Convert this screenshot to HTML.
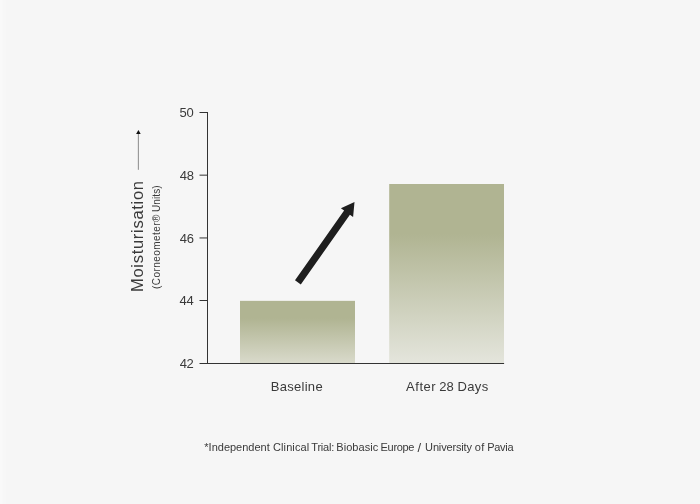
<!DOCTYPE html>
<html lang="en">
<head>
<meta charset="utf-8">
<title>Moisturisation – Independent Clinical Trial</title>
<style>
  html, body { margin: 0; padding: 0; }
  body {
    width: 700px; height: 504px; overflow: hidden;
    background: #f6f6f6;
    font-family: "Liberation Sans", sans-serif;
    color: #3a3a3a;
  }
  .chart { position: relative; width: 700px; height: 504px; overflow: hidden; }
  .chart svg { position: absolute; left: 0; top: 0; }
  .edge { position: absolute; left: 0; top: 0; width: 6px; height: 504px; background: linear-gradient(to right, #f9f9f9 0, #f9f9f9 2px, #f8f8f8 2px, #f8f8f8 3px, #f7f7f7 3px, #f7f7f7 6px); }
  .t { position: absolute; white-space: nowrap; line-height: 1; }
  .v { transform-origin: 0 0; transform: rotate(-90deg); }
</style>
</head>
<body>
<div class="chart">
  <div class="edge"></div>
  <svg width="700" height="504" viewBox="0 0 700 504" aria-hidden="true">
    <defs>
      <linearGradient id="g" x1="0" y1="0" x2="0" y2="1">
        <stop offset="0" stop-color="#b0b492"/>
        <stop offset="0.28" stop-color="#b0b492"/>
        <stop offset="1" stop-color="#e4e5dc"/>
      </linearGradient>
      <linearGradient id="g1" x1="0" y1="0" x2="0" y2="1">
        <stop offset="0" stop-color="#b0b492"/>
        <stop offset="0.28" stop-color="#b0b492"/>
        <stop offset="1" stop-color="#d9dacb"/>
      </linearGradient>
    </defs>
    <!-- bars -->
    <rect x="240" y="300.85" width="115" height="62.15" fill="url(#g1)"/>
    <rect x="389.2" y="184" width="114.8" height="179" fill="url(#g)"/>
    <!-- axes -->
    <rect x="207" y="112" width="1" height="252" fill="#333"/>
    <rect x="199.5" y="363" width="304.6" height="1" fill="#333"/>
    <rect x="199.5" y="112" width="8" height="1" fill="#333"/>
    <rect x="199.5" y="174.65" width="8" height="1" fill="#333"/>
    <rect x="199.5" y="237.45" width="8" height="1" fill="#333"/>
    <rect x="199.5" y="300" width="8" height="1" fill="#333"/>
    <!-- big arrow -->
    <polygon points="295.0,280.3 300.8,284.5 349.9,214.7 353.1,216.9 354.5,202.0 340.9,208.3 344.1,210.6" fill="#1e1e1e"/>
    <!-- small arrow -->
    <rect x="137.85" y="133" width="1" height="36.8" fill="#8a8a8a"/>
    <polygon points="138.4,129.9 140.7,134 136.1,134" fill="#111"/>
  </svg>
  <div class="yticks">
    <span class="t" style="left:179.59px;top:106.00px;font-size:13px;letter-spacing:-0.230px">50</span>
    <span class="t" style="left:179.70px;top:168.60px;font-size:13px;letter-spacing:-0.130px">48</span>
    <span class="t" style="left:179.70px;top:232.20px;font-size:13px;letter-spacing:-0.230px">46</span>
    <span class="t" style="left:179.40px;top:294.20px;font-size:13px;letter-spacing:-0.033px">44</span>
    <span class="t" style="left:179.70px;top:356.90px;font-size:13px;letter-spacing:-0.330px">42</span>
  </div>
  <div class="ylabel">
    <span class="t v" style="left:128.68px;top:292.29px;font-size:16.5px;letter-spacing:0.710px">Moisturisation</span>
    <span class="t v" style="left:151.84px;top:288.87px;font-size:10px;letter-spacing:0.445px">(Corneometer®</span> <span class="t v" style="left:151.84px;top:211.62px;font-size:10px;letter-spacing:0.106px">Units)</span>
  </div>
  <div class="cats">
    <span class="t" style="left:270.78px;top:379.75px;font-size:13px;letter-spacing:0.282px">Baseline</span>
    <span class="t" style="left:406.10px;top:379.75px;font-size:13px;letter-spacing:0.502px">After</span> <span class="t" style="left:439.19px;top:379.75px;font-size:13px;letter-spacing:0.076px">28</span> <span class="t" style="left:457.58px;top:379.75px;font-size:13px;letter-spacing:0.335px">Days</span>
  </div>
  <div class="footnote">
    <span class="t" style="left:204.33px;top:442.09px;font-size:11px;letter-spacing:-0.006px">*Independent</span> <span class="t" style="left:272.98px;top:442.09px;font-size:11px;letter-spacing:0.112px">Clinical</span> <span class="t" style="left:311.33px;top:442.09px;font-size:11px;letter-spacing:-0.224px">Trial:</span> <span class="t" style="left:336.34px;top:442.09px;font-size:11px;letter-spacing:0.036px">Biobasic</span> <span class="t" style="left:380.59px;top:442.09px;font-size:11px;letter-spacing:-0.323px">Europe</span> <span class="t" style="left:417.50px;top:440.90px;font-size:13px;letter-spacing:0.000px">/</span> <span class="t" style="left:425.11px;top:442.09px;font-size:11px;letter-spacing:-0.155px">University</span> <span class="t" style="left:474.66px;top:442.09px;font-size:11px;letter-spacing:0.432px">of</span> <span class="t" style="left:487.14px;top:442.09px;font-size:11px;letter-spacing:-0.257px">Pavia</span>
  </div>
</div>
</body>
</html>
